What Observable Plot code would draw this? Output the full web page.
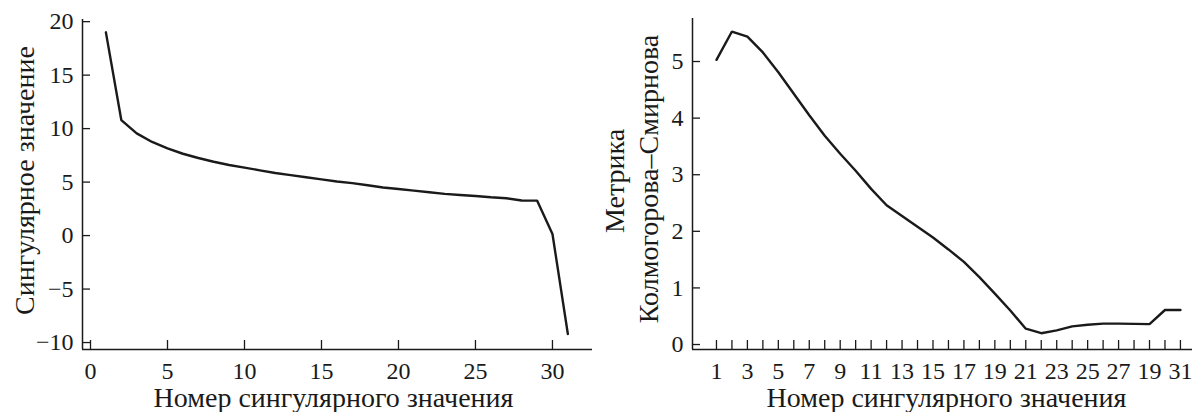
<!DOCTYPE html>
<html>
<head>
<meta charset="utf-8">
<script src="https://cdn.jsdelivr.net/npm/d3@7"></script>
<script src="https://cdn.jsdelivr.net/npm/@observablehq/plot@0.6"></script>
<style>
  html, body { margin: 0; padding: 0; background: #fff; }
  #wrap { position: relative; width: 1193px; height: 412px; overflow: hidden; }
  #left, #right { position: absolute; top: 0; }
  #left { left: 0; }
  #right { left: 600px; }
  svg { overflow: visible; }
  svg text { font-family: 'Liberation Serif', 'DejaVu Serif', serif !important; }
</style>
</head>
<body>
<div id="wrap"><div id="left"></div><div id="right"></div></div>
<script>
// ---- Left panel data ----
const leftX = [1,2,3,4,5,6,7,8,9,10,11,12,13,14,15,16,17,18,19,20,21,22,23,24,25,26,27,28,29,30,31];
const leftY = [19.0,10.8,9.55,8.75,8.15,7.65,7.25,6.9,6.6,6.35,6.1,5.85,5.65,5.45,5.25,5.05,4.9,4.7,4.5,4.35,4.2,4.05,3.9,3.8,3.7,3.58,3.49,3.28,3.27,0.15,-9.2];
const leftXTicks = [0,5,10,15,20,25,30];
const leftYTicks = [-10,-5,0,5,10,15,20];
const leftXDomain = [-0.52, 32.6];
const leftYDomain = [-10.65, 20.2];
const leftXTitle = "Номер сингулярного значения";
const leftYTitle = "Сингулярное значение";

// ---- Right panel data ----
const rightX = [1,2,3,4,5,6,7,8,9,10,11,12,13,14,15,16,17,18,19,20,21,22,23,24,25,26,27,28,29,30,31];
const rightY = [5.03,5.53,5.44,5.16,4.81,4.43,4.05,3.69,3.37,3.07,2.75,2.46,2.27,2.08,1.89,1.68,1.46,1.19,0.90,0.60,0.28,0.20,0.25,0.32,0.35,0.37,0.37,0.365,0.36,0.61,0.61];
const rightXTicks = [1,2,3,4,5,6,7,8,9,10,11,12,13,14,15,16,17,18,19,20,21,22,23,24,25,26,27,28,29,30,31];
const rightXTickLabels = ["1","3","5","7","9","11","13","15","17","19","21","23","25","27","19","31"];
const rightYTicks = [0,1,2,3,4,5];
const rightXDomain = [-0.55, 31.78];
const rightYDomain = [-0.088, 5.76];
const rightXTitle = "Номер сингулярного значения";
const rightYTitleLines = ["Метрика", "Колмогорова–Смирнова"];

const FONT = "'Liberation Serif', 'DejaVu Serif', serif";
const INK = "#1a1a1a";
const tickFont = 24;
const titleFont = 28;

const minus = d => (d < 0 ? "\u2212" + Math.abs(d) : String(d));

const leftData = leftX.map((x, i) => ({x, y: leftY[i]}));
const rightData = rightX.map((x, i) => ({x, y: rightY[i]}));

const axisStyle = {fontSize: tickFont, fontFamily: FONT, fontVariant: "normal", stroke: INK, strokeWidth: 1.3, fill: INK, label: null};

const left = Plot.plot({
  width: 600,
  height: 412,
  marginLeft: 82,
  marginRight: 8,
  marginTop: 19,
  marginBottom: 63,
  style: {fontFamily: FONT, color: INK, background: "transparent"},
  x: {domain: leftXDomain, axis: null},
  y: {domain: leftYDomain, axis: null},
  marks: [
    Plot.axisX({...axisStyle, ticks: leftXTicks, tickSize: -9, tickPadding: 21, tickFormat: minus}),
    Plot.axisY({...axisStyle, ticks: leftYTicks, tickSize: -8, tickPadding: 17, tickFormat: minus}),
    Plot.ruleX([leftXDomain[0]], {stroke: INK, strokeWidth: 1.5}),
    Plot.ruleY([leftYDomain[0]], {stroke: INK, strokeWidth: 1.5}),
    Plot.line(leftData, {x: "x", y: "y", stroke: INK, strokeWidth: 2.4, strokeLinejoin: "miter"}),
    Plot.text([leftXTitle], {frameAnchor: "bottom", dy: 57, dx: -4, textAnchor: "middle", lineAnchor: "bottom", fontSize: titleFont, fontFamily: FONT, fill: INK}),
    Plot.text([leftYTitle], {frameAnchor: "left", dx: -49, dy: -4, rotate: -90, textAnchor: "middle", lineAnchor: "bottom", fontSize: titleFont, fontFamily: FONT, fill: INK})
  ]
});
document.getElementById("left").appendChild(left);

const right = Plot.plot({
  width: 593,
  height: 412,
  marginLeft: 92,
  marginRight: 1,
  marginTop: 18,
  marginBottom: 63,
  style: {fontFamily: FONT, color: INK, background: "transparent"},
  x: {domain: rightXDomain, axis: null},
  y: {domain: rightYDomain, axis: null},
  marks: [
    Plot.axisX({...axisStyle, ticks: rightXTicks, tickSize: -9, tickPadding: 21, tickFormat: d => (d % 2 ? rightXTickLabels[(d - 1) / 2] : "")}),
    Plot.axisY({...axisStyle, ticks: rightYTicks, tickSize: -8, tickPadding: 17, tickFormat: d => String(d)}),
    Plot.ruleX([rightXDomain[0]], {stroke: INK, strokeWidth: 1.5}),
    Plot.ruleY([rightYDomain[0]], {stroke: INK, strokeWidth: 1.5}),
    Plot.line(rightData, {x: "x", y: "y", stroke: INK, strokeWidth: 2.4, strokeLinejoin: "miter"}),
    Plot.text([rightXTitle], {frameAnchor: "bottom", dy: 57, dx: 4, textAnchor: "middle", lineAnchor: "bottom", fontSize: titleFont, fontFamily: FONT, fill: INK}),
    Plot.text([rightYTitleLines[0]], {frameAnchor: "left", dx: -69, dy: -3, rotate: -90, textAnchor: "middle", lineAnchor: "bottom", fontSize: titleFont, fontFamily: FONT, fill: INK}),
    Plot.text([rightYTitleLines[1]], {frameAnchor: "left", dx: -35, dy: -5, rotate: -90, textAnchor: "middle", lineAnchor: "bottom", fontSize: titleFont, fontFamily: FONT, fill: INK})
  ]
});
document.getElementById("right").appendChild(right);
</script>
</body>
</html>
